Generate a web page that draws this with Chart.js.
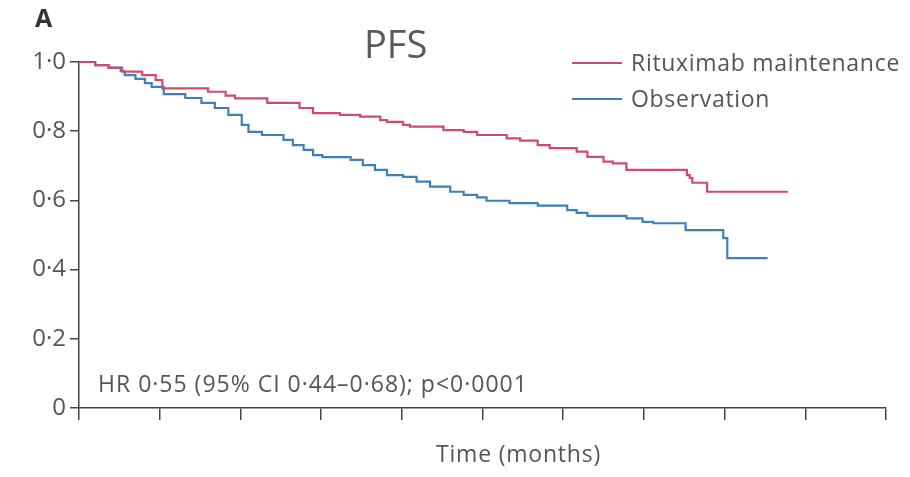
<!DOCTYPE html>
<html>
<head>
<meta charset="utf-8">
<script src="https://cdn.jsdelivr.net/npm/chart.js@4.4.1/dist/chart.umd.min.js"></script>
<style>
  html, body { margin: 0; padding: 0; background: #fff; }
  #wrap { position: relative; width: 910px; height: 477px; overflow: hidden; font-family: "Open Sans", sans-serif; color: #555; }
  #km { position: absolute; left: 0; top: 0; }
  .txt { position: absolute; line-height: 1; white-space: nowrap; }
  #panel { left: 35px; top: 5px; font-size: 25px; font-weight: bold; color: #333; }
  #title { left: 364px; top: 24px; font-size: 38px; color: #5a5a5a; }
  #hr { left: 98px; top: 372px; font-size: 23px; letter-spacing: 1px; }
  #xTitle { left: 436px; top: 442px; font-size: 23px; letter-spacing: 0.8px; }
  #legend { position: absolute; left: 572px; top: 51px; }
  #legend .item { position: relative; height: 35.5px; }
  #legend .swatch { position: absolute; left: 0; top: 11px; width: 50px; height: 2px; }
  #legend .name { position: absolute; left: 59px; top: 0; font-size: 23px; letter-spacing: 0.7px; line-height: 1; white-space: nowrap; color: #555; }
</style>
</head>
<body>
<div id="wrap">
  <canvas id="km" width="910" height="477"></canvas>
  <div class="txt" id="panel">A</div>
  <div class="txt" id="title">PFS</div>
  <div id="legend"></div>
  <div class="txt" id="hr">HR 0·55 (95% CI 0·44–0·68); p&lt;0·0001</div>
  <div class="txt" id="xTitle">Time (months)</div>
</div>
<script>
// Kaplan-Meier steps: time in months where the estimate drops, and the new estimate
const seriesNames = ["Rituximab maintenance", "Observation"];
const seriesColors = ["#cf4b6d", "#3f80b8"];

const rituxTimes = [0, 1.2, 2.2, 3.2, 4.7, 5.7, 6.2, 9.6, 10.9, 11.6, 14.0, 16.4, 17.4, 19.4, 20.9,
    22.4, 22.9, 24.1, 24.6, 27.1, 28.6, 29.6, 31.8, 32.8, 34.1, 35.0, 37.0, 37.8, 39.0, 39.7,
    40.7, 45.2, 45.4, 45.6, 46.7, 52.7];
const rituxSurv = [1.0, 0.991, 0.984, 0.972, 0.962, 0.948, 0.924, 0.914, 0.903, 0.895, 0.882, 0.867, 0.852, 0.847, 0.842,
    0.832, 0.827, 0.818, 0.813, 0.803, 0.798, 0.789, 0.779, 0.773, 0.760, 0.751, 0.741, 0.726, 0.712, 0.707,
    0.688, 0.673, 0.665, 0.651, 0.625, 0.625];

const obsTimes = [0, 1.2, 2.2, 3.1, 3.4, 4.2, 4.9, 5.4, 6.3, 7.9, 9.1, 10.1, 11.1, 12.1, 12.6,
    13.6, 15.2, 15.9, 16.7, 17.4, 18.1, 20.2, 21.1, 22.0, 22.9, 24.1, 25.1, 26.1, 27.6, 28.6,
    29.6, 30.3, 32.0, 34.1, 36.3, 37.0, 37.8, 40.7, 41.9, 42.7, 45.1, 47.9, 48.2, 51.2];
const obsSurv = [1.0, 0.991, 0.983, 0.974, 0.962, 0.951, 0.939, 0.928, 0.907, 0.896, 0.882, 0.867, 0.847, 0.818, 0.798,
    0.789, 0.775, 0.760, 0.746, 0.731, 0.725, 0.717, 0.702, 0.688, 0.673, 0.668, 0.654, 0.640, 0.625, 0.616,
    0.609, 0.599, 0.592, 0.585, 0.572, 0.564, 0.555, 0.548, 0.538, 0.534, 0.514, 0.491, 0.433, 0.433];

const xMax = 60;
const xStep = 6;
const yTicks = [0, 0.2, 0.4, 0.6, 0.8, 1.0];

const toPoints = (times, surv) => times.map((t, i) => ({ x: t, y: surv[i] }));
const tickLabel = v => v === 0 ? "0" : v.toFixed(1).replace(".", "·");

const axisColor = "#444";

const chart = new Chart(document.getElementById("km"), {
    type: "line",
    data: {
        datasets: [
            { label: seriesNames[0], data: toPoints(rituxTimes, rituxSurv), borderColor: seriesColors[0] },
            { label: seriesNames[1], data: toPoints(obsTimes, obsSurv), borderColor: seriesColors[1] }
        ].map(d => ({ ...d, stepped: true, borderWidth: 2.2, fill: false, pointRadius: 0, clip: false }))
    },
    options: {
        responsive: false,
        animation: false,
        layout: { padding: { top: 62, right: 24, left: 0, bottom: 0 } },
        plugins: { legend: { display: false }, tooltip: { enabled: false } },
        scales: {
            x: {
                type: "linear",
                min: 0,
                max: xMax,
                ticks: { stepSize: xStep, display: false },
                grid: { drawOnChartArea: false, drawTicks: true, tickLength: 12, color: axisColor, lineWidth: 1.5 },
                border: { color: axisColor, width: 1.5 },
                afterFit: s => { s.height = 69; }
            },
            y: {
                min: 0,
                max: 1,
                afterBuildTicks: s => { s.ticks = yTicks.map(v => ({ value: v })); },
                ticks: {
                    padding: 4,
                    color: "#555",
                    font: { family: "Open Sans", size: 24 },
                    callback: v => tickLabel(v)
                },
                grid: { drawOnChartArea: false, tickLength: 9, color: axisColor, lineWidth: 1.5 },
                border: { color: axisColor, width: 1.5 },
                afterFit: s => { s.width = 79; }
            }
        }
    }
});

// legend built from the datasets
const legend = document.getElementById("legend");
legend.innerHTML = chart.data.datasets.map(d => `
    <div class="item">
        <div class="swatch" style="background:${d.borderColor}"></div>
        <div class="name">${d.label}</div>
    </div>`).join("");
</script>
</body>
</html>
